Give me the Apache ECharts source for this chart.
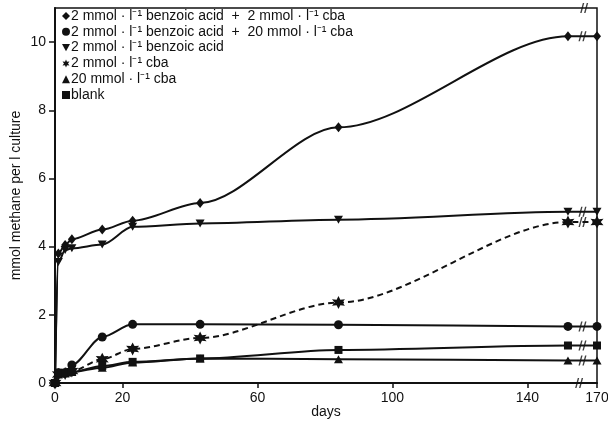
<!DOCTYPE html>
<html>
<head>
<meta charset="utf-8">
<script src="https://cdn.jsdelivr.net/npm/echarts@6/dist/echarts.min.js"></script>
<style>
  html, body { margin: 0; padding: 0; background: #fff; }
  #chart { width: 608px; height: 422px; }
</style>
</head>
<body>
<div id="chart"></div>
<script>
// sampling days (the last one sits behind the axis break)
const days = [0, 1, 3, 5, 14, 23, 43, 84, 152, 170];

const benzoic2cba2 = [0, 3.8, 4.05, 4.22, 4.5, 4.76, 5.28, 7.5, 10.17, 10.17];
const benzoic2cba20 = [0, 0.3, 0.3, 0.53, 1.35, 1.72, 1.72, 1.71, 1.66, 1.66];
const benzoic2 = [0, 3.55, 3.9, 3.95, 4.06, 4.58, 4.68, 4.79, 5.02, 5.02];
const cba2 = [0, 0.25, 0.28, 0.35, 0.7, 1.0, 1.32, 2.36, 4.72, 4.72];
const cba20 = [0, 0.25, 0.28, 0.32, 0.45, 0.6, 0.72, 0.7, 0.66, 0.66];
const blank = [0, 0.3, 0.3, 0.33, 0.5, 0.62, 0.72, 0.97, 1.1, 1.1];

const seriesNames = [
  '2 mmol · l⁻¹ benzoic acid  +  2 mmol · l⁻¹ cba',
  '2 mmol · l⁻¹ benzoic acid  +  20 mmol · l⁻¹ cba',
  '2 mmol · l⁻¹ benzoic acid',
  '2 mmol · l⁻¹ cba',
  '20 mmol · l⁻¹ cba',
  'blank'
];

const xTicks = [0, 20, 60, 100, 140, 170];
const yTicks = [0, 2, 4, 6, 8, 10];

// broken axis: after day 152 the scale is squeezed
const breakAt = 152;
const squeeze = 0.478;
function toAxis(d) {
  return d <= breakAt ? d : breakAt + (d - breakAt) * squeeze;
}
function fromAxis(v) {
  return v <= breakAt ? v : Math.round(breakAt + (v - breakAt) / squeeze);
}

// 6-pointed star symbol
function starPath() {
  let p = '';
  for (let i = 0; i < 12; i++) {
    const r = i % 2 === 0 ? 10 : 5;
    const a = Math.PI / 6 * i - Math.PI / 2;
    p += (i === 0 ? 'M' : 'L') + (10 + r * Math.cos(a)).toFixed(2) + ',' + (10 + r * Math.sin(a)).toFixed(2);
  }
  return 'path://' + p + 'Z';
}

const triDown = 'path://M0,0L10,0L5,9Z';
const breakMark = 'path://M3,0L4.6,0L1.6,10L0,10Z M7.4,0L9,0L6,10L4.4,10Z';

const symbols = ['diamond', 'circle', triDown, starPath(), 'triangle', 'rect'];
const sizes = [[8, 10], 9, [9, 8], 13, [9, 8], 8];
const values = [benzoic2cba2, benzoic2cba20, benzoic2, cba2, cba20, blank];
const ink = '#111';

const xMax = toAxis(170);
const breakX = (toAxis(breakAt) + xMax) / 2;

let series = values.map((vals, i) => ({
  name: seriesNames[i],
  type: 'line',
  smooth: 0.3,
  smoothMonotone: 'x',
  symbol: symbols[i],
  symbolSize: sizes[i],
  itemStyle: { color: ink },
  lineStyle: { color: ink, width: 2, type: i === 3 ? [6, 4] : 'solid' },
  data: days.map((d, j) => [toAxis(d), vals[j]]),
  z: 3
}));

// "//" marks on each line and on the axes at the break
series.push({
  name: 'break',
  type: 'scatter',
  symbol: breakMark,
  symbolSize: [8, 10],
  itemStyle: { color: ink },
  data: values.map(v => [breakX, v[v.length - 1]]).concat([[breakX - 1, 0], [breakX + 0.5, 11]]),
  z: 4,
  silent: true
});

let myChart = echarts.init(document.getElementById('chart'));
let option = {
  animation: false,
  textStyle: { fontFamily: 'Liberation Sans, Arial, sans-serif', color: ink },
  grid: {
    left: 55, right: 11, top: 8, bottom: 39,
    outerBoundsMode: 'none',
    containLabel: false,
    show: true, borderColor: ink, borderWidth: 1.5
  },
  legend: {
    orient: 'vertical',
    left: 62, top: 9,
    padding: 0,
    itemWidth: 8, itemHeight: 8, itemGap: 1.8,
    textStyle: { fontSize: 14, lineHeight: 14, color: ink, padding: [0, 0, 0, -4] },
    data: seriesNames.map((n, i) => ({ name: n, icon: i === 3 ? starPath() : symbols[i] }))
  },
  xAxis: {
    type: 'value',
    min: 0, max: xMax,
    name: 'days',
    nameLocation: 'middle',
    nameGap: 22,
    nameMoveOverlap: false,
    nameTextStyle: { fontSize: 14, color: ink },
    axisLine: { lineStyle: { color: ink, width: 2 } },
    axisTick: { show: true, length: 5, lineStyle: { color: ink, width: 1.5 }, customValues: xTicks.map(toAxis) },
    axisLabel: {
      fontSize: 14, color: ink, margin: 8,
      customValues: xTicks.map(toAxis),
      formatter: v => String(fromAxis(v))
    },
    splitLine: { show: false }
  },
  yAxis: {
    type: 'value',
    min: 0, max: 11,
    name: 'mmol methane per l culture',
    nameLocation: 'middle',
    nameGap: 32,
    nameMoveOverlap: false,
    nameTextStyle: { fontSize: 14, color: ink },
    axisLine: { lineStyle: { color: ink, width: 2 } },
    axisTick: { show: true, length: 6, lineStyle: { color: ink, width: 1.5 }, customValues: yTicks },
    axisLabel: { fontSize: 14, color: ink, margin: 9, customValues: yTicks },
    splitLine: { show: false }
  },
  series: series
};
myChart.setOption(option);
</script>
</body>
</html>
